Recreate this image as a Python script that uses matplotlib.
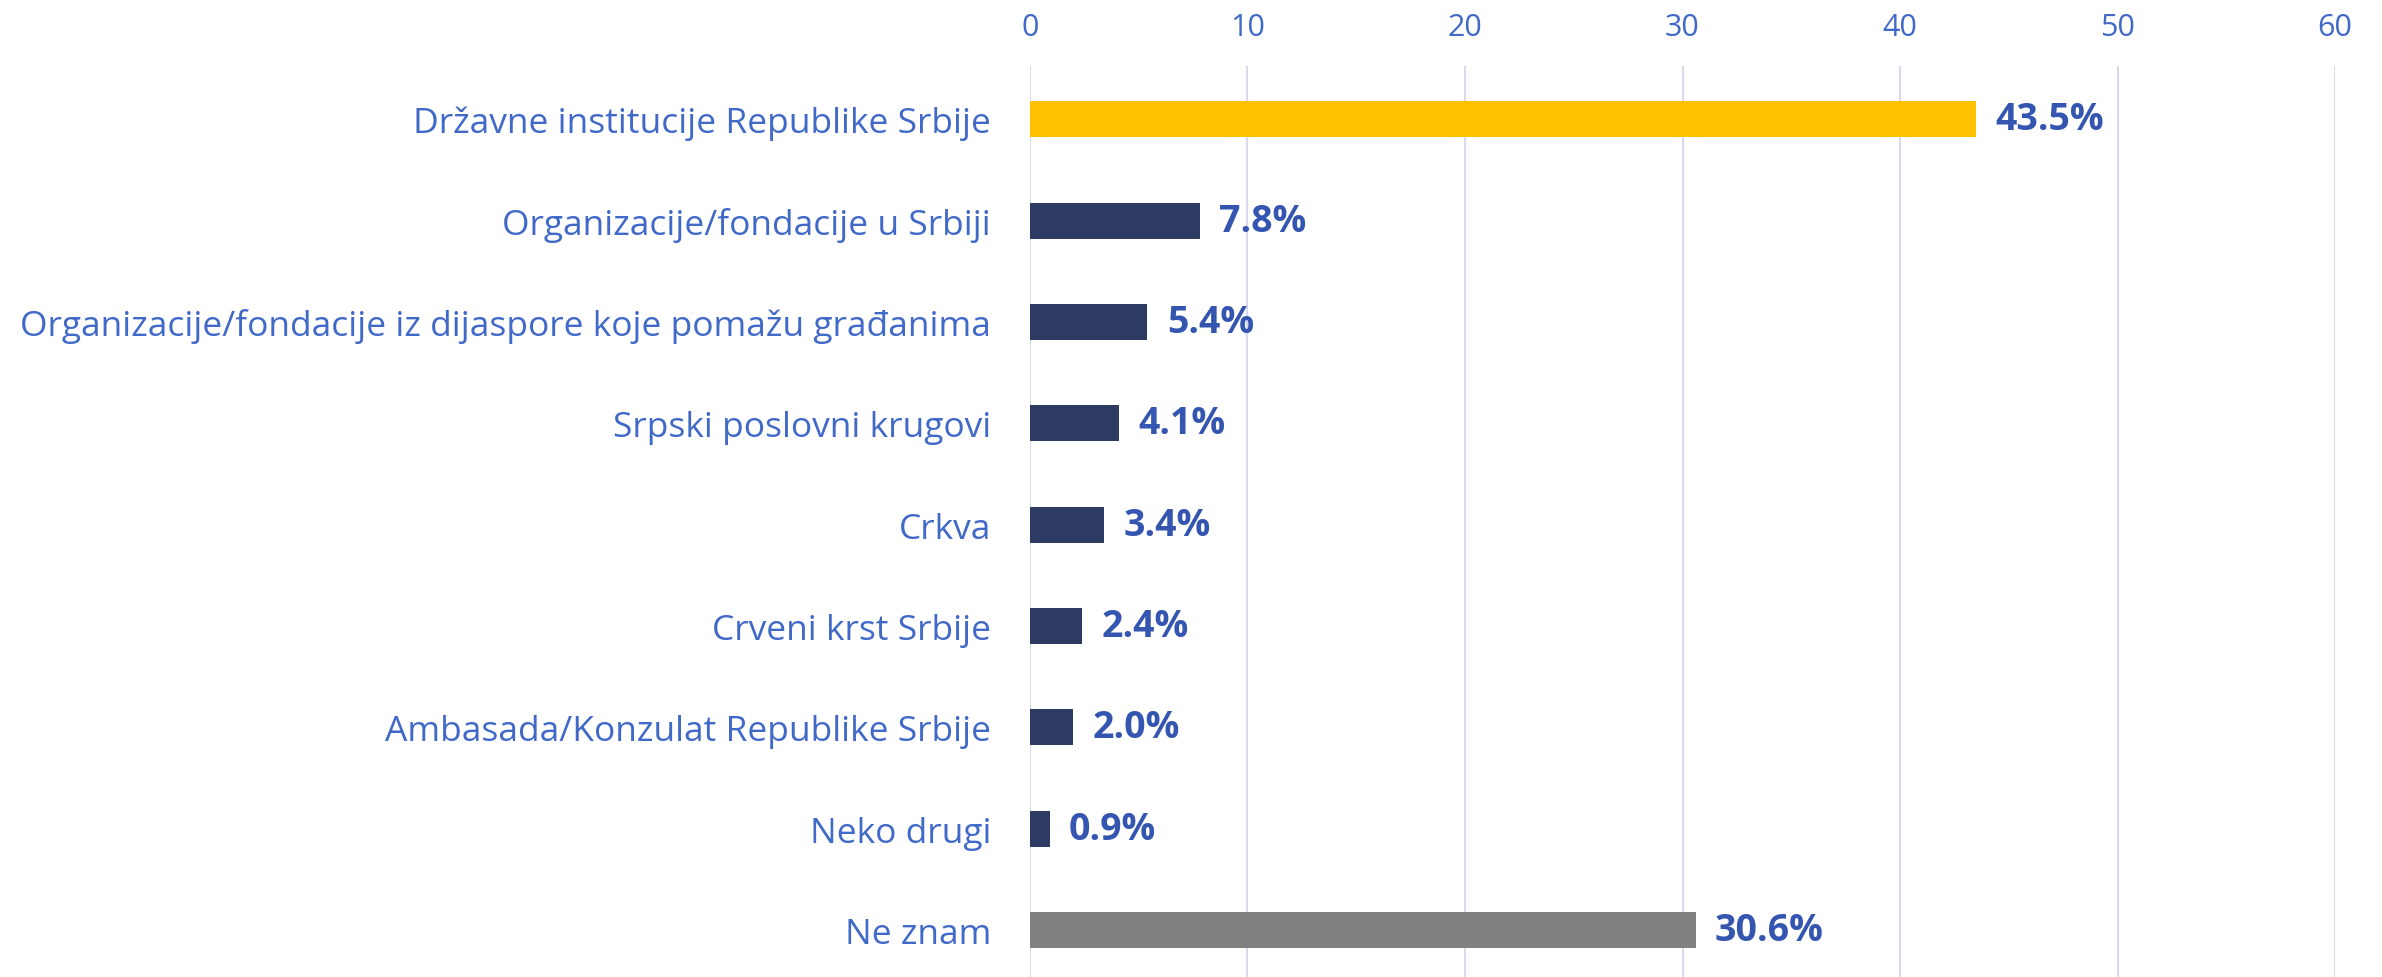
import matplotlib
matplotlib.use("Agg")
from matplotlib import pyplot as plt

# Data
categories = [
    "Državne institucije Republike Srbije",
    "Organizacije/fondacije u Srbiji",
    "Organizacije/fondacije iz dijaspore koje pomažu građanima",
    "Srpski poslovni krugovi",
    "Crkva",
    "Crveni krst Srbije",
    "Ambasada/Konzulat Republike Srbije",
    "Neko drugi",
    "Ne znam",
]
values = [43.5, 7.8, 5.4, 4.1, 3.4, 2.4, 2.0, 0.9, 30.6]
bar_colors = ["#FFC000"] + ["#2D3A62"] * 7 + ["#808080"]
x_ticks = [0, 10, 20, 30, 40, 50, 60]

label_color = "#4169C8"
value_color = "#3556B0"
grid_color = "#D6DCEE"

plt.rcParams["font.family"] = ["Open Sans", "DejaVu Sans"]

fig = plt.figure(figsize=(23.82, 9.78), dpi=100)
ax = fig.add_axes([0.4324, 0.0, 0.9803 - 0.4324, 0.9315])

y = list(range(len(categories)))
ax.barh(y, values, height=0.355, color=bar_colors, zorder=3)

# value labels
for yi, v in zip(y, values):
    ax.annotate(f"{v:.1f}%", xy=(v, yi), xytext=(14, 0), textcoords="offset points",
                va="center", ha="left", fontsize=27, fontweight="bold",
                color=value_color)

ax.set_xlim(0, 60)
ax.set_ylim(len(categories) - 0.535, -0.525)
ax.set_xticks(x_ticks)
ax.set_yticks(y)
ax.set_yticklabels(categories)

ax.xaxis.tick_top()
ax.tick_params(axis="x", length=0, pad=17, labelsize=22, labelcolor=label_color)
ax.tick_params(axis="y", length=0, pad=28, labelsize=25.5, labelcolor=label_color)

ax.grid(axis="x", color=grid_color, linewidth=1.5, zorder=0)
for s in ax.spines.values():
    s.set_visible(False)

fig.savefig("out.png", dpi=100)
